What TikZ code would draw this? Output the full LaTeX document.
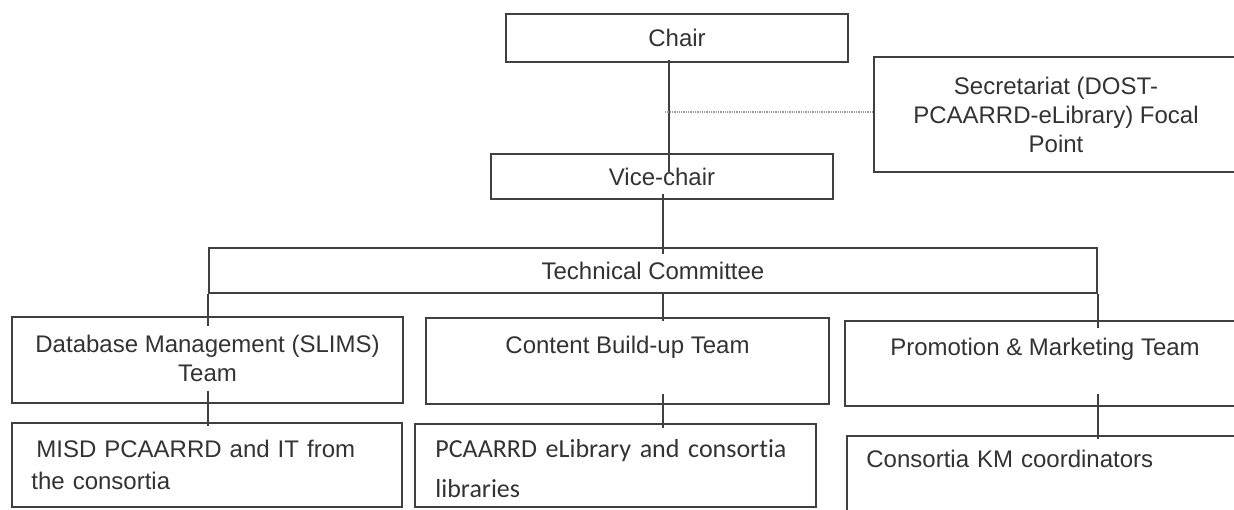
\documentclass[tikz,border=0pt]{standalone}
\usepackage{fontspec}
\setmainfont{Liberation Sans}
\newfontfamily\calibfont[Ligatures={NoCommon}]{Carlito}
\usetikzlibrary{calc}
\definecolor{linec}{HTML}{404040}
\definecolor{textc}{HTML}{333333}
\definecolor{dotc}{HTML}{9A9A9A}
\begin{document}
\begin{tikzpicture}[x=1pt,y=-1pt,
  box/.style={draw=linec, line width=1.6pt, inner sep=0pt, rectangle},
  txt/.style={text=textc, font=\fontsize{24}{29}\selectfont, inner sep=0pt, align=center},
  ltxt/.style={text=textc, font=\fontsize{24}{32}\selectfont, inner sep=0pt, align=left, text width=380pt, anchor=north west},
  conn/.style={draw=linec, line width=1.6pt},
  dots/.style={draw=dotc, line width=1.3pt, densely dotted}]
\useasboundingbox (0,0) rectangle (1234,509);
\clip (0,0) rectangle (1234,509);
\fill[white] (0,0) rectangle (1234,509);

% top boxes
\node[box, txt, minimum width=342pt, minimum height=48pt] (chair) at (677,38) {Chair};
\node[box, minimum width=364pt, minimum height=115pt] (sec) at (1056,114.5) {};
\node[txt] (sect) at (sec.center) {Secretariat (DOST-\\PCAARRD-eLibrary) Focal\\Point};
\node[box, txt, minimum width=342pt, minimum height=45pt] (vice) at (662,176.5) {Vice-chair};
\node[box, txt, minimum width=888pt, minimum height=45pt] (tc) at (653,270.5) {Technical Committee};

% team boxes
\node[box, minimum width=391pt, minimum height=86pt] (db) at (207.5,360) {};
\node[txt] (dbt) at (207.5,358) {Database Management (SLIMS)\\Team};
\node[box, minimum width=403pt, minimum height=86pt] (content) at (627.5,361) {};
\node[txt, anchor=north] (contentt) at ([yshift=-18.4pt]content.north) {Content Build-up Team};
\node[box, minimum width=400pt, minimum height=85pt] (promo) at (1045,363.5) {};
\node[txt, anchor=north] (promot) at ([yshift=-17.4pt]promo.north) {Promotion \& Marketing Team};

% member boxes
\node[box, minimum width=390pt, minimum height=84pt] (misd) at (207,465) {};
\node[ltxt] (misdt) at ([xshift=20pt,yshift=-17.6pt]misd.north west) {\hspace*{5pt}MISD PCAARRD and IT from\\the consortia};
\node[box, minimum width=401pt, minimum height=83pt] (pca) at (615.5,465.5) {};
\node[ltxt, font=\calibfont\fontsize{26}{40}\selectfont] (pcat) at ([xshift=21pt,yshift=-16pt]pca.north west) {PCAARRD eLibrary and consortia\\libraries};
\node[box, minimum width=403pt, minimum height=90pt] (cons) at (1048.5,481) {};
\node[ltxt] (const) at ([xshift=20pt,yshift=-14.6pt]cons.north west) {Consortia KM coordinators};

% spines
\coordinate (sp1) at (669,0);
\coordinate (sp2) at (663,0);
\coordinate (secin) at ([yshift=2.5pt]sec.west);

% connectors
\draw[conn, shorten <=-3pt, shorten >=-19pt] (chair.south -| sp1) -- (vice.north -| sp1);
\draw[dots, shorten <=-4pt] (sp1 |- secin) -- (secin);
\draw[conn, shorten <=-6pt, shorten >=-7pt] (vice.south -| sp2) -- (tc.north -| sp2);
\draw[conn, shorten >=-10pt] (tc.south west) -- (tc.south west |- db.north);
\draw[conn, shorten >=-4pt] (tc.south -| sp2) -- (content.north -| sp2);
\draw[conn, shorten >=-8pt] (tc.south east) -- (tc.south east |- promo.north);
\draw[conn, shorten <=-13pt, shorten >=-4pt] (db.south -| tc.west) -- (misd.north -| tc.west);
\draw[conn, shorten <=-11pt, shorten >=-5pt] (content.south -| sp2) -- (pca.north -| sp2);
\draw[conn, shorten <=-13pt, shorten >=-4pt] (promo.south -| tc.east) -- (cons.north -| tc.east);
\end{tikzpicture}
\end{document}
